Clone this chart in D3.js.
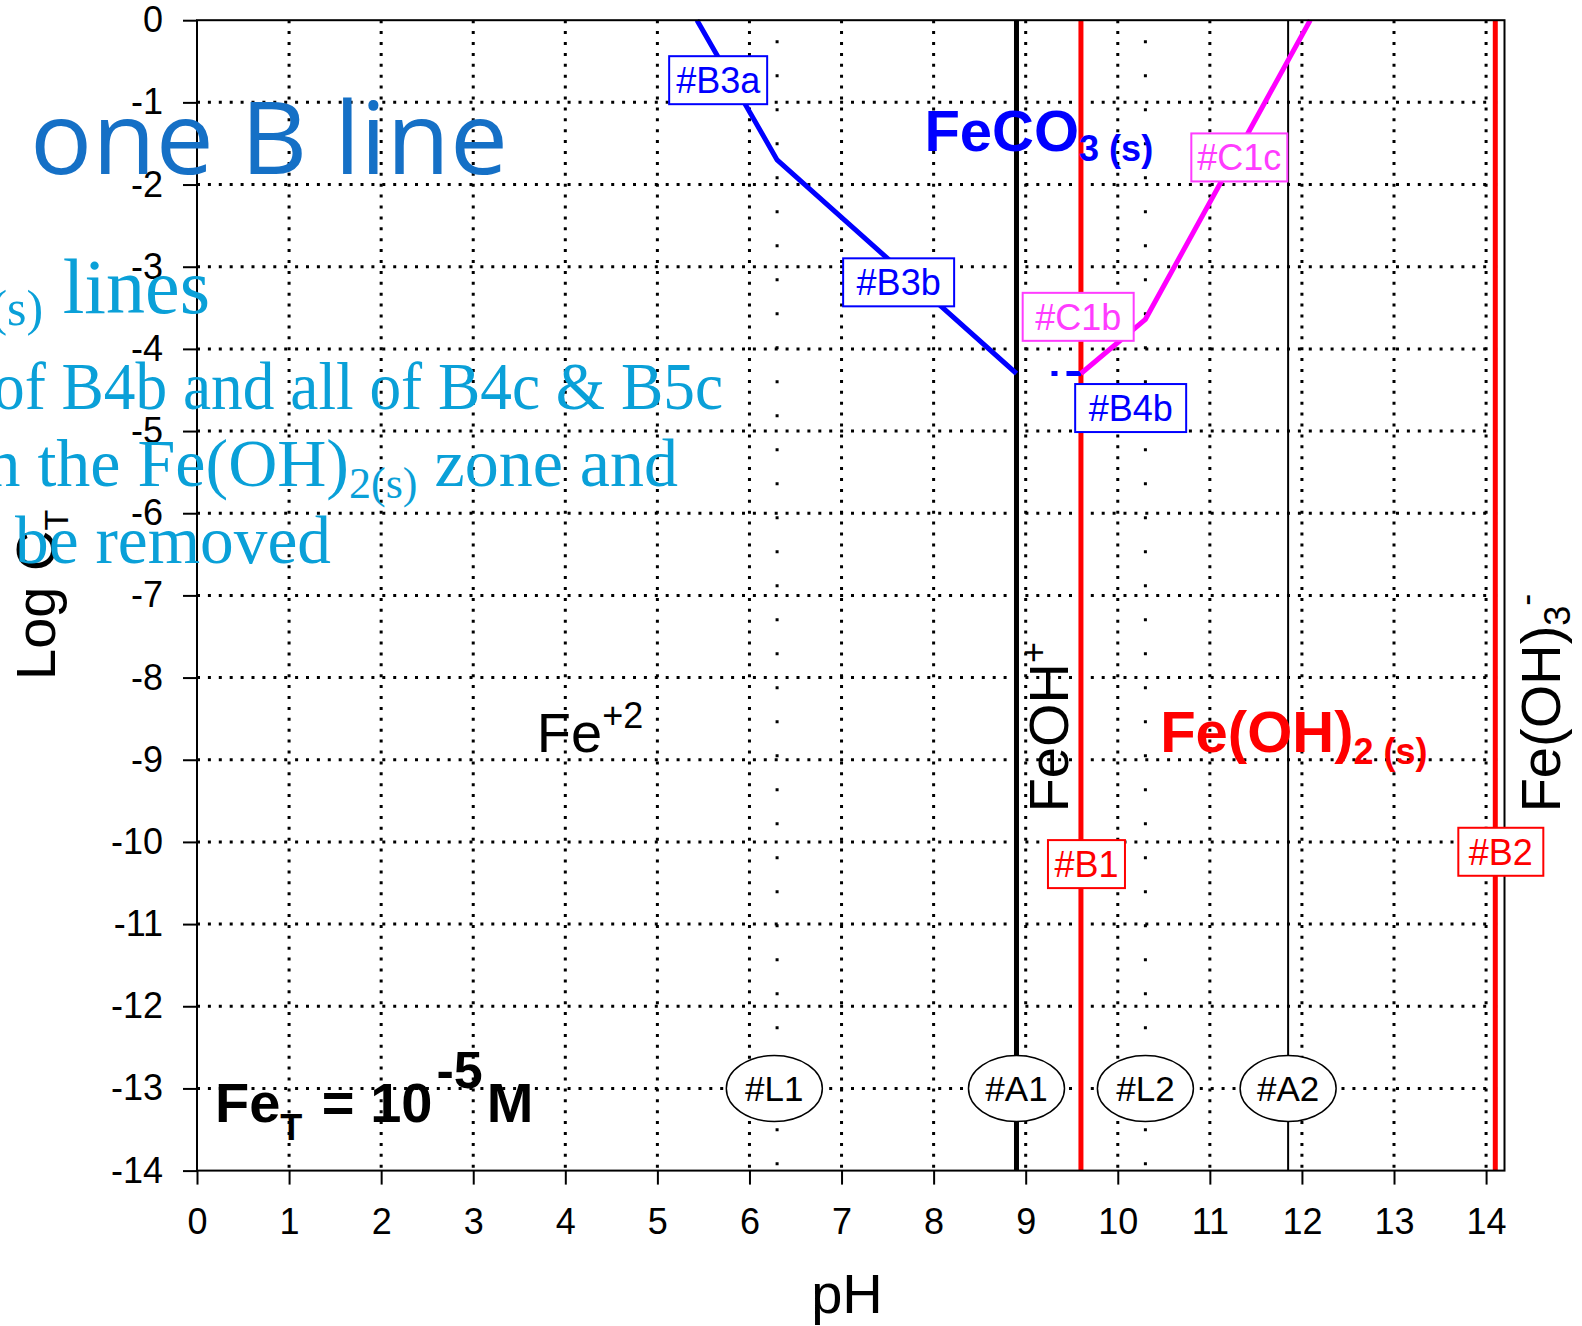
<!DOCTYPE html>
<html lang="en">
<head>
<meta charset="UTF-8">
<title>Fe(II) log C - pH diagram</title>
<style>
  body { margin: 0; background: #fff; }
  svg { display: block; font-family: "Liberation Sans", Arial, sans-serif; }
</style>
</head>
<body>
<svg width="1582" height="1326"></svg>
<script src="https://cdn.jsdelivr.net/npm/d3@7/dist/d3.min.js"></script>
<script>
    // ticks
    const phTicks = d3.range(0, 15);
    const logTicks = d3.range(0, -15, -1);

    // vertical boundaries (pH)
    const phA1 = 8.9, phA2 = 11.85, phB1 = 9.6, phB2 = 14.1;
    const breakPH = [6.3, 10.3];

    // solubility lines [pH, log C]
    const b3Line = [[5.43, 0], [6.3, -1.7], [8.9, -4.3]];
    const b4bLine = [[8.9, -4.3], [9.6, -4.3]];
    const c1Line = [[9.6, -4.3], [10.3, -3.64], [12.09, 0]];

    // boxed labels [text, pH, log C]
    const blueLabels = [["#B3a", 5.66, -0.73], ["#B3b", 7.62, -3.19], ["#B4b", 10.14, -4.72]];
    const pinkLabels = [["#C1b", 9.57, -3.61], ["#C1c", 11.32, -1.67]];
    const redLabels = [["#B1", 9.66, -10.27], ["#B2", 14.16, -10.12]];

    // circled labels on the log C = -13 line
    const circleNames = ["#L1", "#A1", "#L2", "#A2"];
    const circlePH = [6.27, 8.9, 10.3, 11.85];

    const svg = d3.select("svg");
    const x = d3.scaleLinear().domain([0, 14.2]).range([197, 1504.5]);
    const y = d3.scaleLinear().domain([0, -14]).range([20.2, 1170.6]);

    // dotted grid
    const grid = svg.append("g")
        .attr("stroke", "#000")
        .attr("stroke-width", 3)
        .attr("stroke-dasharray", "3,7.9");
    grid.selectAll("line.gx")
        .data(phTicks.slice(1))
        .join("line").attr("class", "gx")
        .attr("x1", d => x(d)).attr("x2", d => x(d))
        .attr("y1", y(0)).attr("y2", y(-14));
    grid.selectAll("line.gy")
        .data(logTicks.slice(1, -1))
        .join("line").attr("class", "gy")
        .attr("x1", x(0)).attr("x2", x(14.2))
        .attr("y1", d => y(d)).attr("y2", d => y(d));
    // sparse dots at L1/L2
    grid.selectAll("line.gb")
        .data(breakPH)
        .join("line").attr("class", "gb")
        .attr("stroke-dasharray", "3,31")
        .attr("x1", d => x(d)).attr("x2", d => x(d))
        .attr("y1", y(0) + 20).attr("y2", y(-14));

    const vline = (ph, color, w) => svg.append("line")
        .attr("x1", x(ph)).attr("x2", x(ph))
        .attr("y1", y(0)).attr("y2", y(-14))
        .attr("stroke", color).attr("stroke-width", w);
    vline(phA1, "#000", 5);
    vline(phA2, "#000", 2);
    vline(phB1, "#ff0000", 5);
    vline(phB2, "#ff0000", 5);

    const line = d3.line().x(d => x(d[0])).y(d => y(d[1]));
    svg.append("path").attr("d", line(b3Line))
        .attr("fill", "none").attr("stroke", "#0000ff").attr("stroke-width", 5);
    svg.append("path").attr("d", line(b4bLine))
        .attr("fill", "none").attr("stroke", "#0000ff").attr("stroke-width", 5)
        .attr("stroke-dasharray", "0,35,6,9,20,200");
    svg.append("path").attr("d", line(c1Line))
        .attr("fill", "none").attr("stroke", "#ff00ff").attr("stroke-width", 5);

    // axes (plain hyphen for negatives)
    const fmt = d => String(d);
    const xAxis = d3.axisBottom(x).tickValues(phTicks).tickFormat(fmt)
        .tickSize(14).tickSizeOuter(0).tickPadding(24);
    const yAxis = d3.axisLeft(y).tickValues(logTicks).tickFormat(fmt)
        .tickSize(14).tickSizeOuter(0).tickPadding(20);
    const styleAxis = g => {
        g.select(".domain").remove();
        g.selectAll("line").attr("stroke", "#000").attr("stroke-width", 2);
        g.selectAll("text").attr("font-size", 36).attr("fill", "#000")
            .attr("font-family", "'Liberation Sans', Arial, sans-serif");
    };
    svg.append("g").attr("transform", `translate(0,${y(-14)})`).call(xAxis).call(styleAxis);
    svg.append("g").attr("transform", `translate(${x(0)},0)`).call(yAxis).call(styleAxis);

    svg.append("rect")
        .attr("x", x(0)).attr("y", y(0))
        .attr("width", x(14.2) - x(0)).attr("height", y(-14) - y(0))
        .attr("fill", "none").attr("stroke", "#000").attr("stroke-width", 2);

    // axis titles
    const yTitle = svg.append("text")
        .attr("transform", "translate(55,680) rotate(-90)")
        .attr("font-size", 56);
    yTitle.append("tspan").text("Log C");
    yTitle.append("tspan").attr("font-size", 34).attr("dy", 13).text("T");
    svg.append("text").attr("x", 847).attr("y", 1313)
        .attr("text-anchor", "middle").attr("font-size", 56).text("pH");

    // species labels
    const feco3 = svg.append("text")
        .attr("x", x(7.9)).attr("y", y(-1.59))
        .attr("fill", "#0000ff").attr("font-weight", "bold").attr("font-size", 58);
    feco3.append("tspan").text("FeCO");
    feco3.append("tspan").attr("font-size", 36).attr("dy", 10).text("3 (s)");

    const feoh2 = svg.append("text")
        .attr("x", x(10.46)).attr("y", y(-8.9))
        .attr("fill", "#ff0000").attr("font-weight", "bold").attr("font-size", 58);
    feoh2.append("tspan").text("Fe(OH)");
    feoh2.append("tspan").attr("font-size", 36).attr("dy", 12).text("2 (s)");

    const fe2 = svg.append("text")
        .attr("x", x(3.69)).attr("y", y(-8.9)).attr("font-size", 56);
    fe2.append("tspan").text("Fe");
    fe2.append("tspan").attr("font-size", 36).attr("dy", -24).text("+2");

    const feoh = svg.append("text")
        .attr("transform", `translate(${x(9.46)},${y(-9.64)}) rotate(-90)`)
        .attr("font-size", 56);
    feoh.append("tspan").text("FeOH");
    feoh.append("tspan").attr("font-size", 36).attr("dy", -22).text("+");

    const feoh3 = svg.append("text")
        .attr("transform", `translate(${x(14.8)},${y(-9.64)}) rotate(-90)`)
        .attr("font-size", 56);
    feoh3.append("tspan").text("Fe(OH)");
    feoh3.append("tspan").attr("font-size", 36).attr("dy", 10).text("3");
    feoh3.append("tspan").attr("font-size", 36).attr("dy", -32).text("-");

    const fet = svg.append("text")
        .attr("x", x(0.195)).attr("y", y(-13.41))
        .attr("font-weight", "bold").attr("font-size", 56);
    fet.append("tspan").text("Fe");
    fet.append("tspan").attr("font-size", 36).attr("dy", 18).text("T");
    fet.append("tspan").attr("dy", -18).attr("dx", 4).text(" = 10");
    fet.append("tspan").attr("font-size", 52).attr("dy", -34).attr("dx", 4).text("-5");
    fet.append("tspan").attr("dy", 34).attr("dx", 4).text("M");

    // boxed labels
    const boxes = (data, color, w) => {
        const g = svg.append("g").selectAll("g")
            .data(data)
            .join("g")
            .attr("transform", d => `translate(${x(d[1])},${y(d[2])})`);
        g.append("rect")
            .attr("x", -w / 2).attr("y", -24).attr("width", w).attr("height", 48)
            .attr("fill", "#fff").attr("stroke", color).attr("stroke-width", 2);
        g.append("text")
            .attr("text-anchor", "middle").attr("dy", "0.36em")
            .attr("font-size", 36).attr("fill", color)
            .text(d => d[0]);
    };
    boxes(blueLabels.slice(0, 1), "#0000ff", 98);
    boxes(blueLabels.slice(1), "#0000ff", 111);
    boxes(pinkLabels.slice(0, 1), "#ff3cff", 111);
    boxes(pinkLabels.slice(1), "#ff3cff", 96);
    boxes(redLabels.slice(0, 1), "#ff0000", 77);
    boxes(redLabels.slice(1), "#ff0000", 85);

    // circled labels
    const circ = svg.append("g").selectAll("g")
        .data(circleNames)
        .join("g")
        .attr("transform", (d, i) => `translate(${x(circlePH[i])},${y(-13)})`);
    circ.append("ellipse")
        .attr("rx", 48).attr("ry", 33)
        .attr("fill", "#fff").attr("stroke", "#000").attr("stroke-width", 1.5);
    circ.append("text")
        .attr("text-anchor", "middle").attr("dy", "0.36em")
        .attr("font-size", 35).text(d => d);

    // slide text sitting on top of the chart
    svg.append("text")
        .attr("x", 30).attr("y", 174)
        .attr("font-family", "'Open Sans', sans-serif").attr("font-size", 100)
        .attr("fill", "#1570c6")
        .attr("textLength", 478).attr("lengthAdjust", "spacingAndGlyphs")
        .text("one B line");

    const serif = g => g.attr("font-family", "'Liberation Serif', serif")
        .attr("font-size", 68).attr("fill", "#0aa0d8")
        .attr("text-anchor", "end").attr("lengthAdjust", "spacingAndGlyphs");

    const t1 = svg.append("text").attr("x", 210).attr("y", 313).call(serif)
        .attr("font-size", 78);
    t1.append("tspan").attr("font-size", 50).attr("dy", 12).text("(s)");
    t1.append("tspan").attr("dy", -12).text(" lines");

    svg.append("text").attr("x", 723).attr("y", 409).call(serif)
        .attr("textLength", 730)
        .text("of B4b and all of B4c & B5c");

    const t3 = svg.append("text").attr("x", 678).attr("y", 486).call(serif);
    t3.append("tspan").text("n the Fe(OH)");
    t3.append("tspan").attr("font-size", 44).attr("dy", 12).text("2(s)");
    t3.append("tspan").attr("dy", -12).text(" zone and");

    svg.append("text").attr("x", 331).attr("y", 563).call(serif)
        .attr("textLength", 316)
        .text("be removed");
</script>
</body>
</html>
